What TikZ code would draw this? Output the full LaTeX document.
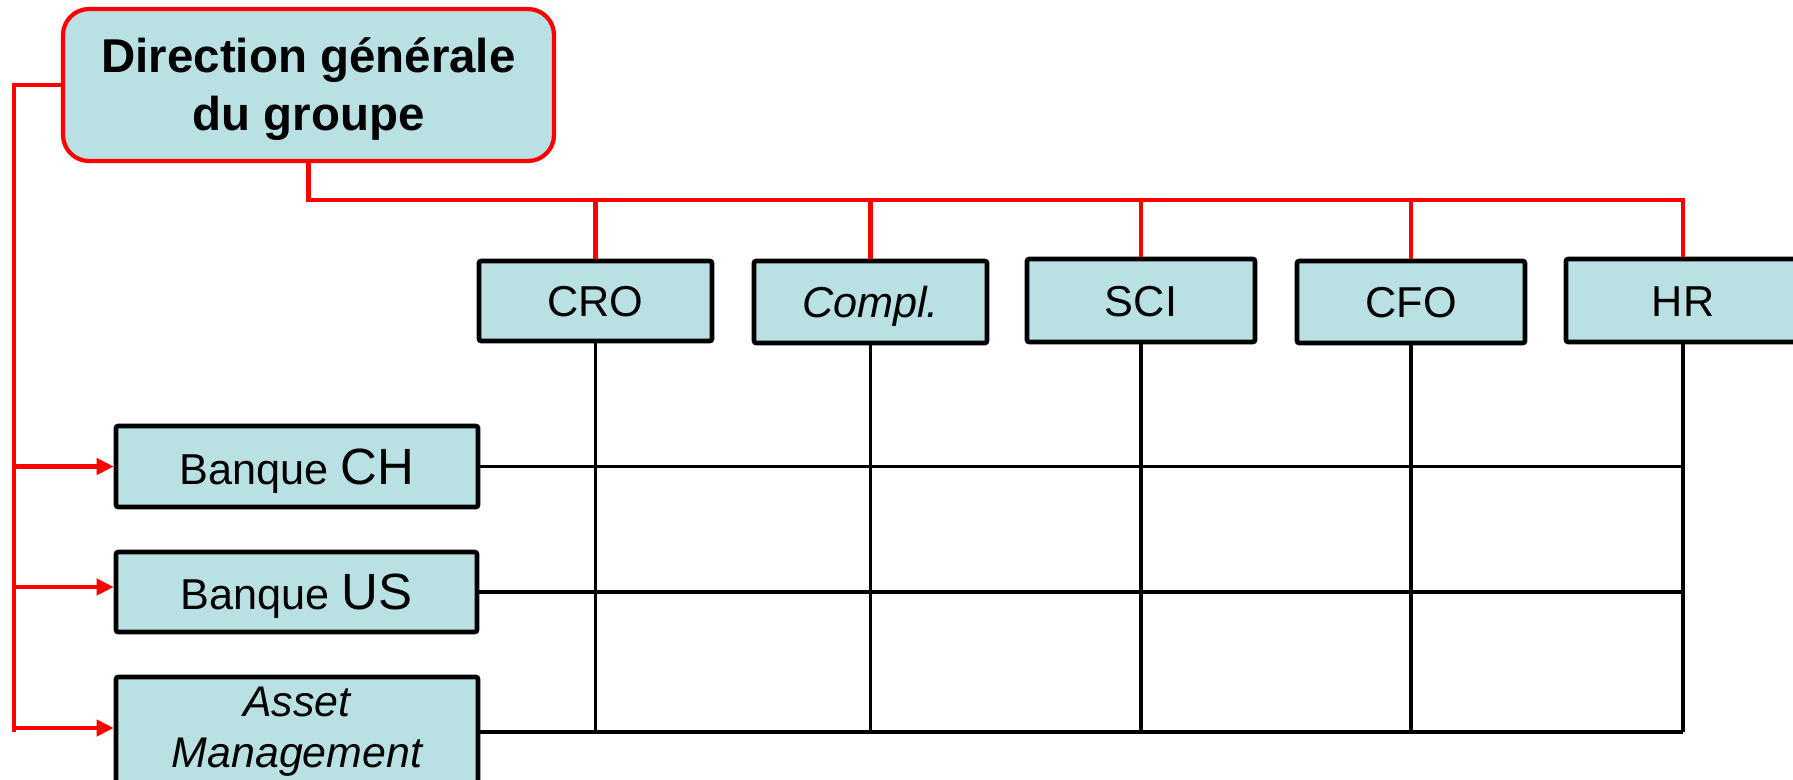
\documentclass[tikz,border=0pt]{standalone}
\usepackage{fontspec}
\setmainfont{Liberation Sans}
\usetikzlibrary{arrows.meta}
\definecolor{boxfill}{RGB}{185,224,227}
\begin{document}
\begin{tikzpicture}[x=1cm,y=1cm,
  box/.style={draw=black, line width=1.3pt, fill=boxfill, rounded corners=0.6pt,
    inner sep=0pt, align=center, font=\fontsize{12.3}{14.5}\selectfont},
  topbox/.style={box, minimum width=2.31cm, minimum height=0.82cm,
    text height=0.31cm, text depth=0cm},
  sidebox/.style={box, minimum width=3.62cm, minimum height=0.81cm,
    text height=0.354cm, text depth=0cm},
  headbox/.style={draw=red, line width=1.2pt, fill=boxfill, rounded corners=0.26cm,
    minimum width=4.91cm, minimum height=1.52cm, align=center, inner sep=0pt,
    font=\bfseries\fontsize{13.5}{16.5}\selectfont},
  redline/.style={draw=red, line width=1.15pt},
  redarrow/.style={redline, -{Triangle[length=0.17cm,width=0.16cm]}},
  gridline/.style={draw=black, line width=0.95pt}
]
\useasboundingbox (0,0) rectangle (17.93,-7.79);
\clip (0,0) rectangle (17.93,-7.79);

% head
\node[headbox] (dg) at (3.085,-0.85) {\rule{0pt}{12pt}Direction générale\\du groupe};

% top boxes
\node[topbox, minimum width=2.33cm, minimum height=0.80cm] (cro) at (5.955,-3.01) {CRO};
\node[topbox, minimum width=2.33cm] (compl) at (8.705,-3.02) {\itshape Compl.};
\node[topbox, minimum width=2.28cm, minimum height=0.83cm] (sci) at (11.41,-3.005) {SCI};
\node[topbox, minimum width=2.28cm] (cfo) at (14.11,-3.02) {CFO};
\node[topbox, minimum width=2.34cm, minimum height=0.83cm] (hr) at (16.83,-3.005) {HR};

% side boxes
\node[sidebox] (bch) at (2.97,-4.665) {Banque {\fontsize{14.5}{16}\selectfont CH}};
\node[sidebox, minimum width=3.61cm, minimum height=0.80cm] (bus) at (2.965,-5.92) {Banque {\fontsize{14.5}{16}\selectfont US}};
\node[box, minimum width=3.62cm, minimum height=1.10cm, font=\itshape\fontsize{12.2}{14.5}\selectfont] (am) at (2.97,-7.32) {Asset\\Management};

% grid lines
\foreach \n in {cro,compl,sci,cfo,hr}
  \draw[gridline] (\n.south) -- (\n.south |- am.east);
\foreach \n in {bch,bus,am}
  \draw[gridline] (\n.east) -- (\n.east -| hr.south);

% red connectors, top
\coordinate (hy) at (0,-2.00);
\draw[redline] (dg.south) -- (dg.south |- hy) -- (hr.north |- hy) -- (hr.north);
\foreach \n in {cro,compl,sci,cfo}
  \draw[redline] (\n.north |- hy) -- (\n.north);

% red connectors, left
\coordinate (lx) at (0.14,0);
\draw[redline] (dg.west) -- (dg.west -| lx) -- (lx |- am.west);
\draw[redarrow] (lx |- bch.west) -- (bch.west);
\draw[redarrow] ([yshift=0.05cm]lx |- bus.west) -- ([yshift=0.05cm]bus.west);
\draw[redarrow] ([yshift=0.04cm]lx |- am.west) -- ([yshift=0.04cm]am.west);
\end{tikzpicture}
\end{document}
